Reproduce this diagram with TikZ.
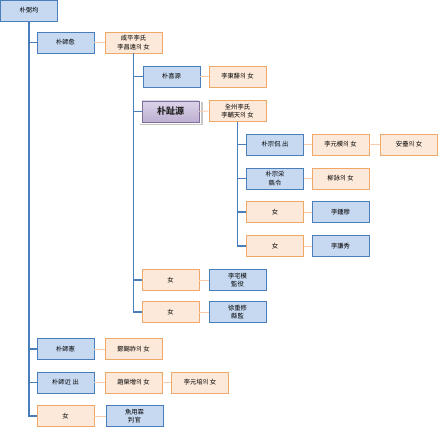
\documentclass[tikz,border=0pt]{standalone}
\usepackage{fontspec}
\newfontfamily\cjk{Noto Sans CJK KR}
\usetikzlibrary{shadows}
\definecolor{kinfill}{HTML}{C6D9F1}
\definecolor{kinline}{HTML}{4A7EBB}
\definecolor{matefill}{HTML}{FDE9D9}
\definecolor{mateline}{HTML}{F0A868}
\definecolor{tieline}{HTML}{F8CBAD}
\definecolor{egotop}{HTML}{DCD3E8}
\definecolor{egobot}{HTML}{BDAFD2}
\definecolor{egoline}{HTML}{7F6F9A}
\tikzset{
  kin/.style={
    rectangle,
    draw=kinline,
    fill=kinfill,
    line width=0.8pt,
    minimum width=57pt,
    minimum height=21pt,
    inner sep=1pt,
    align=center,
    font=\cjk\fontsize{6.3}{8.5}\selectfont
  },
  mate/.style={kin, draw=mateline, fill=matefill},
  ego/.style={kin, draw=egoline, top color=egotop, bottom color=egobot,
    drop shadow={opacity=0.45, shadow xshift=1.2pt, shadow yshift=-1.5pt, shadow scale=1.1},
    preaction={draw=white, line width=4pt},
    text=black!85,
    font=\cjk\bfseries\fontsize{9}{10}\selectfont}
}
\tikzstyle{branch} = [draw=kinline, line width=1.2pt]
\tikzstyle{tie} = [draw=tieline, line width=0.9pt]

\begin{document}
\begin{tikzpicture}[x=1pt, y=-1pt]
    \useasboundingbox (0,0) rectangle (439,427);
    % generation 1
    \node[kin] (g0) at (29, 10.5) {朴弼均};
    % generation 2
    \node[kin] (p1) at (65.5, 42.5) {朴師愈};
    \node[mate] (pw1) at (133.5, 42.5) {咸平李氏\\李昌遠의 女};
    \node[kin] (p2) at (65.5, 349) {朴師憲};
    \node[mate] (pw2) at (133.5, 349) {鄭錫祚의 女};
    \node[kin] (p3) at (65.5, 382.5) {朴師近 出};
    \node[mate] (pw3) at (133.5, 382.5) {趙榮增의 女};
    \node[mate] (pw3b) at (200, 382.5) {李元培의 女};
    \node[mate] (p4) at (65.5, 416) {女};
    \node[kin] (pw4) at (134.5, 416) {魚用霖\\判官};
    % generation 3
    \node[kin] (q1) at (171.5, 76.5) {朴喜源};
    \node[mate] (qw1) at (237.5, 76.5) {李東馡의 女};
    \node[ego] (q2) at (170.5, 111.5) {朴趾源};
    \node[mate] (qw2) at (237.5, 111) {全州李氏\\李輔天의 女};
    \node[mate] (q3) at (170.5, 280) {女};
    \node[kin] (qw3) at (237.5, 280) {李宅模\\監役};
    \node[mate] (q4) at (170.5, 312) {女};
    \node[kin] (qw4) at (237.5, 312) {徐重修\\縣監};
    % generation 4
    \node[kin] (r1) at (275, 144.5) {朴宗侃 出};
    \node[mate] (rw1) at (340.5, 144.5) {李元模의 女};
    \node[mate] (rw1b) at (409, 144.5) {安壘의 女};
    \node[kin] (r2) at (275, 178.5) {朴宗采\\縣令};
    \node[mate] (rw2) at (340.5, 178.5) {柳詠의 女};
    \node[mate] (r3) at (275, 212) {女};
    \node[kin] (rw3) at (340.5, 212) {李鍾穆};
    \node[mate] (r4) at (275, 246) {女};
    \node[kin] (rw4) at (340.5, 246) {李謙秀};

    % descent lines
    \draw[branch] (g0.south) |- (p4.west);
    \foreach \c in {p1, p2, p3}
        \draw[branch] (g0.south |- \c.west) -- (\c.west);
    \draw[branch] (pw1.south) |- (q4.west);
    \foreach \c in {q1, q2, q3}
        \draw[branch] (pw1.south |- \c.west) -- (\c.west);
    \draw[branch] (qw2.south) |- (r4.west);
    \foreach \c in {r1, r2, r3}
        \draw[branch] (qw2.south |- \c.west) -- (\c.west);

    % marriage lines
    \foreach \a/\b in {p1/pw1, p2/pw2, p3/pw3, pw3/pw3b, p4/pw4, q1/qw1, q2/qw2, q3/qw3, q4/qw4, r1/rw1, rw1/rw1b, r2/rw2, r3/rw3, r4/rw4}
        \draw[tie] (\a.east) -- (\b.west);
\end{tikzpicture}
\end{document}
